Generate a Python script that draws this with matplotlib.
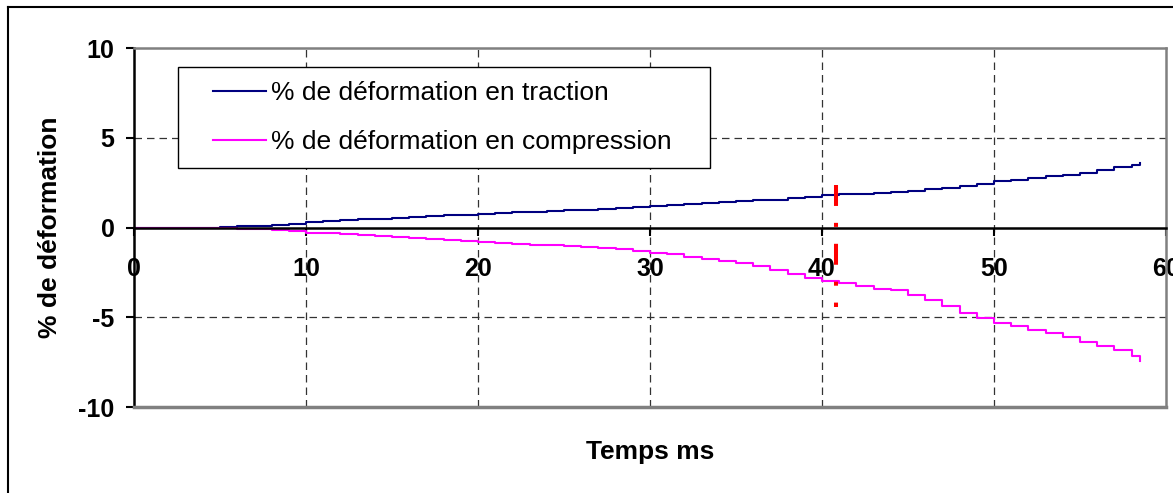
import matplotlib.pyplot as plt
from matplotlib.lines import Line2D
from matplotlib.patches import Rectangle

plt.rcParams['font.family'] = ['Liberation Sans', 'DejaVu Sans']
plt.rcParams['axes.unicode_minus'] = False

# temps (ms) et % de deformation (paliers)
temps = [0, 5, 6, 7, 8, 9, 10, 11, 12, 13, 14, 15, 16, 17, 18, 19, 20, 21, 22,
         23, 24, 25, 26, 27, 28, 29, 30, 31, 32, 33, 34, 35, 36, 37, 38, 39, 40,
         41, 42, 43, 44, 45, 46, 47, 48, 49, 50, 51, 52, 53, 54, 55, 56, 57, 58,
         58.5]
traction = [0, 0.05, 0.08, 0.1, 0.14, 0.2, 0.28, 0.38, 0.42, 0.45, 0.5, 0.55,
            0.6, 0.63, 0.68, 0.72, 0.78, 0.8, 0.85, 0.88, 0.92, 0.95, 1.0, 1.03,
            1.08, 1.13, 1.22, 1.26, 1.32, 1.36, 1.42, 1.47, 1.52, 1.56, 1.62,
            1.7, 1.8, 1.85, 1.87, 1.92, 1.98, 2.05, 2.12, 2.2, 2.3, 2.42, 2.58,
            2.67, 2.75, 2.85, 2.95, 3.05, 3.2, 3.35, 3.5, 3.62]
compression = [0, -0.05, -0.08, -0.1, -0.15, -0.2, -0.28, -0.33, -0.36, -0.4,
               -0.45, -0.52, -0.6, -0.65, -0.72, -0.76, -0.82, -0.86, -0.9,
               -0.95, -1.0, -1.05, -1.1, -1.15, -1.22, -1.3, -1.42, -1.5, -1.62,
               -1.75, -1.88, -2.0, -2.15, -2.35, -2.6, -2.8, -3.0, -3.1, -3.25,
               -3.4, -3.5, -3.75, -4.05, -4.35, -4.75, -5.05, -5.3, -5.5, -5.7,
               -5.9, -6.1, -6.35, -6.6, -6.85, -7.15, -7.45]

t_rupture = 40.8
rupture = [2.35, -4.4]

fig = plt.figure(figsize=(11.73, 4.93), dpi=100)
ax = fig.add_axes([0.1142, 0.1744, 0.8798, 0.7282])

ax.plot(temps, traction, color='#000080', lw=1.5, drawstyle='steps-post',
        label='% de déformation en traction')
ax.plot(temps, compression, color='#ff00ff', lw=1.5, drawstyle='steps-post',
        label='% de déformation en compression')
ax.plot([t_rupture, t_rupture], rupture, color='red', lw=2.9,
        linestyle=(0, (5.2, 4.2, 1, 4.2)), solid_capstyle='butt')

ax.set_xlim(0, 60)
ax.set_ylim(-10, 10)
ax.set_xticks([0, 10, 20, 30, 40, 50, 60])
ax.set_yticks([-10, -5, 0, 5, 10])

for x in [10, 20, 30, 40, 50]:
    ax.axvline(x, color='#333333', lw=0.9, ls=(0, (6, 4)), zorder=0.5)
for y in [-5, 5]:
    ax.axhline(y, color='#333333', lw=0.9, ls=(0, (6, 4)), zorder=0.5)

ax.spines['bottom'].set_position(('data', 0))
ax.spines['bottom'].set_color('black')
ax.spines['bottom'].set_linewidth(1.8)
ax.spines['left'].set_color('black')
ax.spines['left'].set_linewidth(1.8)
ax.spines['top'].set_color('gray')
ax.spines['top'].set_linewidth(1.8)
ax.spines['right'].set_color('gray')
ax.spines['right'].set_linewidth(1.8)
ax.axhline(-10, color='gray', lw=2.5, clip_on=False, zorder=3)

ax.tick_params(axis='both', direction='out', length=6, width=1.5, labelsize=18)
ax.tick_params(axis='y', pad=8)
ax.tick_params(axis='x', pad=15.5)
for lab in ax.get_xticklabels() + ax.get_yticklabels():
    lab.set_fontweight('bold')

ax.set_ylabel('% de déformation', fontsize=19, fontweight='bold', va='center')
ax.yaxis.set_label_coords(-0.081, 0.5)
ax.set_xlabel('Temps ms', fontsize=19, fontweight='bold', va='center')
ax.xaxis.set_label_coords(0.5, -0.125)

# cadre de la legende (comme dans Excel, plus large que le texte)
ax.add_patch(Rectangle((0.0426, 0.6657), 0.5155, 0.2813, transform=ax.transAxes,
                       facecolor='white', edgecolor='black', lw=1.0, zorder=4))
leg = ax.legend(loc='center left', bbox_to_anchor=(0.0766, 0.807), fontsize=19,
                frameon=False, handlelength=2.0, handletextpad=0.2,
                borderpad=0, labelspacing=0.95, borderaxespad=0,
                handleheight=0.7)
leg.set_zorder(5)

# bord de la zone de graphique (seuls le haut et la gauche sont visibles)
fig.add_artist(Line2D([0.0064, 0.0064], [0.0, 0.9858], transform=fig.transFigure,
                      color='black', lw=1.5))
fig.add_artist(Line2D([0.0064, 1.0], [0.9858, 0.9858], transform=fig.transFigure,
                      color='black', lw=1.5))

plt.savefig('out.png', dpi=100)
plt.close()
